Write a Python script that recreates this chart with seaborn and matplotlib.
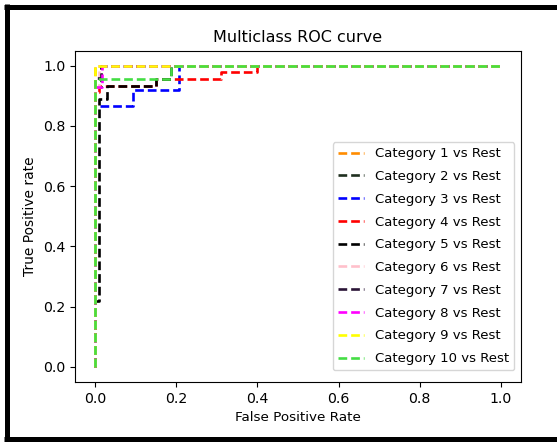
import matplotlib
matplotlib.use("Agg")
import matplotlib.pyplot as plt
from matplotlib.lines import Line2D
import seaborn as sns
import pandas as pd

# One-vs-rest ROC curves (false positive rate, true positive rate) per category
labels = [f"Category {i} vs Rest" for i in range(1, 11)]
colors = ["darkorange", "#1f2f1f", "blue", "red", "black",
          "pink", "#2a1436", "magenta", "yellow", "#44dd44"]

fpr_1 = [0.0, 0.0, 1.0]
tpr_1 = [0.0, 1.0, 1.0]
fpr_2 = [0.0, 0.0, 0.015, 0.015, 1.0]
tpr_2 = [0.0, 0.93, 0.93, 1.0, 1.0]
fpr_3 = [0.0, 0.0, 0.092, 0.092, 0.206, 0.206, 1.0]
tpr_3 = [0.0, 0.867, 0.867, 0.92, 0.92, 1.0, 1.0]
fpr_4 = [0.0, 0.0, 0.01, 0.01, 0.15, 0.15, 0.31, 0.31, 0.40, 0.40, 1.0]
tpr_4 = [0.0, 0.911, 0.911, 0.933, 0.933, 0.956, 0.956, 0.978, 0.978, 1.0, 1.0]
fpr_5 = [0.0, 0.0, 0.01, 0.01, 0.03, 0.03, 0.15, 0.15, 0.187, 0.187, 1.0]
tpr_5 = [0.0, 0.22, 0.22, 0.89, 0.89, 0.933, 0.933, 0.956, 0.956, 1.0, 1.0]
fpr_6 = [0.0, 0.0, 0.01, 0.01, 1.0]
tpr_6 = [0.0, 0.93, 0.93, 1.0, 1.0]
fpr_7 = [0.0, 0.0, 0.015, 0.015, 1.0]
tpr_7 = [0.0, 0.96, 0.96, 1.0, 1.0]
fpr_8 = [0.0, 0.0, 0.017, 0.017, 1.0]
tpr_8 = [0.0, 0.93, 0.93, 1.0, 1.0]
fpr_9 = [0.0, 0.0, 1.0]
tpr_9 = [0.0, 1.0, 1.0]
fpr_10 = [0.0, 0.0, 0.187, 0.187, 1.0]
tpr_10 = [0.0, 0.956, 0.956, 1.0, 1.0]

fprs = [fpr_1, fpr_2, fpr_3, fpr_4, fpr_5, fpr_6, fpr_7, fpr_8, fpr_9, fpr_10]
tprs = [tpr_1, tpr_2, tpr_3, tpr_4, tpr_5, tpr_6, tpr_7, tpr_8, tpr_9, tpr_10]

W, H = 557, 443
fig = plt.figure(figsize=(W / 100, H / 100), dpi=100)
ax = fig.add_axes([75 / W, 1 - 382 / H, 446 / W, 331.5 / H])

for label, color, fpr, tpr in zip(labels, colors, fprs, tprs):
    df = pd.DataFrame({"fpr": fpr, "tpr": tpr})
    sns.lineplot(data=df, x="fpr", y="tpr", ax=ax, color=color, label=label,
                 linestyle=(0, (3.3, 1.5)), linewidth=1.9,
                 estimator=None, sort=False)

ax.set_xlim(-0.05, 1.05)
ax.set_ylim(-0.05, 1.05)
ax.set_title("Multiclass ROC curve", fontsize=11.5)
ax.set_xlabel("False Positive Rate", fontsize=9.7)
ax.set_ylabel("True Positive rate", fontsize=9.9)
ax.tick_params(labelsize=10.2)
ax.legend(loc="lower right", fontsize=9.5, labelspacing=0.74,
          bbox_to_anchor=(1.0, 0.015))

# dark frame on the left, top and bottom edges of the figure
frame = dict(color="black", linewidth=3.6, solid_capstyle="butt",
             transform=fig.transFigure)
fig.add_artist(Line2D([6.5 / W, 6.5 / W], [1 - 4 / H, 1 - 441 / H], **frame))
fig.add_artist(Line2D([4 / W, 1.0], [1 - 6.5 / H, 1 - 6.5 / H], **frame))
fig.add_artist(Line2D([4 / W, 1.0], [1 - 438.5 / H, 1 - 438.5 / H], **frame))

fig.savefig("out.png", dpi=100)
